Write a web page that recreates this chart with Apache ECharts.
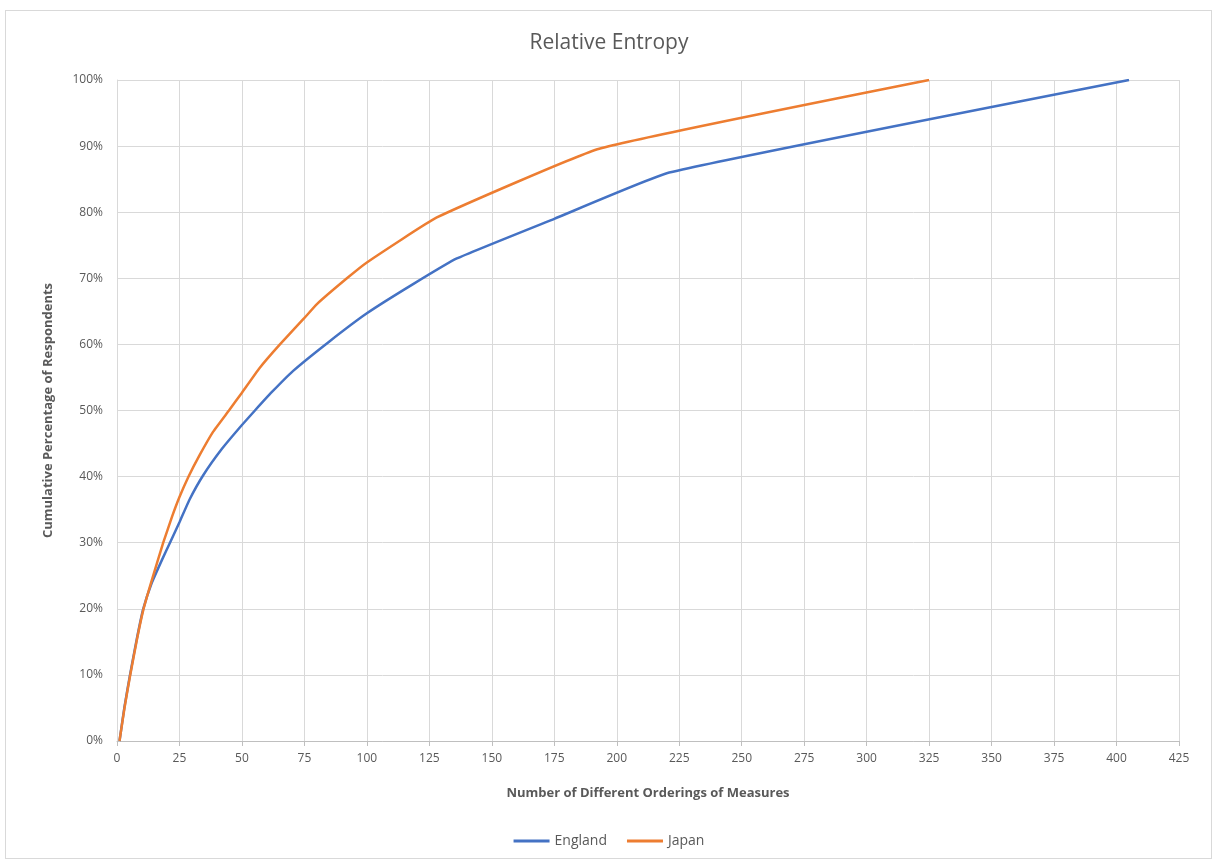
<!DOCTYPE html>
<html>
<head>
<meta charset="utf-8">
<script src="https://cdn.jsdelivr.net/npm/echarts@6/dist/echarts.min.js"></script>
<style>
html,body{margin:0;padding:0;background:#fff;}
#frame{position:absolute;left:5px;top:10px;width:1207px;height:849px;border:1px solid #d9d9d9;box-sizing:border-box;}
#chart{position:absolute;left:0;top:0;width:1218px;height:862px;}
</style>
</head>
<body>
<div id="frame"></div>
<div id="chart"></div>
<script>
const title = 'Relative Entropy';
const xAxisName = 'Number of Different Orderings of Measures';
const yAxisName = 'Cumulative Percentage of Respondents';
const seriesNames = ['England', 'Japan'];
// [orderings, cumulative %]
const englandData = [[1,0],[3,5.2],[5.2,10],[8,15.6],[10.5,20],[14,24],[18,27.4],[21.2,30],[25,33.1],[29,36.5],[34.5,40.2],[42,44.2],[50,47.8],[55.2,50],[62,52.8],[70.5,56],[84.5,60.3],[100,64.7],[118,69],[136,73],[175,79],[221,86],[405,100]];
const japanData = [[1,0],[3,5],[5.2,9.8],[8,15.4],[10.5,19.8],[14,24.4],[18.5,30],[22,33.9],[25,36.9],[28.5,39.9],[33,43.2],[38.5,46.8],[44.8,50],[50,52.7],[57,56.4],[65.2,60],[75,64],[80,66.1],[92,70],[100,72.4],[128,79.2],[193,89.6],[325,100]];
const xTicks = {min:0, max:425, interval:25};
const yTicks = {min:0, max:100, interval:10};

const chart = echarts.init(document.getElementById('chart'), null, {renderer:'canvas'});
const txt = '#595959';
const font = '"Open Sans", "Noto Sans", sans-serif';
chart.setOption({
  animation:false,
  backgroundColor:'transparent',
  title:{text:title,left:'center',top:28,textStyle:{fontFamily:font,fontSize:21,fontWeight:'normal',color:txt}},
  grid:{left:117,right:39,top:80,bottom:121},
  legend:{bottom:9,left:'center',icon:'rect',itemWidth:36,itemHeight:3,itemGap:20,
    textStyle:{fontFamily:font,fontSize:14,color:txt},data:seriesNames},
  xAxis:{type:'value',min:xTicks.min,max:xTicks.max,interval:xTicks.interval,
    name:xAxisName,nameLocation:'middle',nameGap:46,
    nameTextStyle:{fontFamily:font,fontSize:13,fontWeight:'bold',color:txt},
    axisLine:{show:true,lineStyle:{color:'#bfbfbf',width:1}},
    axisTick:{show:true,length:5,lineStyle:{color:'#bfbfbf'}},
    axisLabel:{fontFamily:font,fontSize:12,color:txt,margin:12},
    splitLine:{show:true,lineStyle:{color:'#d9d9d9',width:1}}},
  yAxis:{type:'value',min:yTicks.min,max:yTicks.max,interval:yTicks.interval,
    name:yAxisName,nameLocation:'middle',nameGap:62,nameRotate:90,
    nameTextStyle:{fontFamily:font,fontSize:13,fontWeight:'bold',color:txt},
    axisLine:{show:true,lineStyle:{color:'#d9d9d9'}},
    axisTick:{show:false},
    axisLabel:{fontFamily:font,fontSize:12,color:txt,margin:14,formatter:'{value}%'},
    splitLine:{show:true,lineStyle:{color:'#d9d9d9',width:1}}},
  series:[
    {name:seriesNames[0],type:'line',data:englandData,showSymbol:false,symbol:'none',smooth:0.12,
      lineStyle:{color:'#4472C4',width:2.5},itemStyle:{color:'#4472C4'}},
    {name:seriesNames[1],type:'line',data:japanData,showSymbol:false,symbol:'none',smooth:0.12,
      lineStyle:{color:'#ED7D31',width:2.5},itemStyle:{color:'#ED7D31'}}
  ]
});
</script>
</body>
</html>
